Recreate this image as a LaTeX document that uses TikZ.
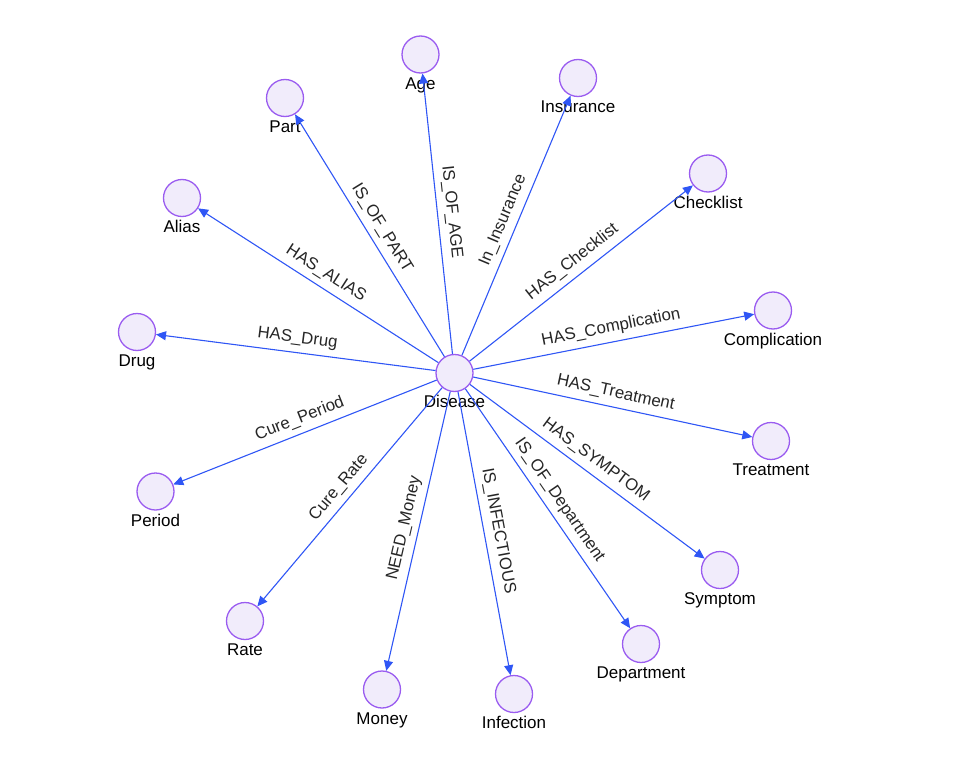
\documentclass[tikz,border=0pt]{standalone}
\usepackage{fontspec}
\setmainfont{Liberation Sans}
\usepackage{xcolor}
\usetikzlibrary{arrows.meta}
\definecolor{entline}{HTML}{9A5CF0}
\definecolor{entfill}{HTML}{F1ECFB}
\definecolor{relblue}{HTML}{2F56F5}
\tikzset{
  ent/.style  = {circle, draw=entline, fill=entfill, line width=1.3pt,
                 minimum size=37pt, inner sep=0pt,
                 label={[nlbl]below:#1}},
  nlbl/.style = {anchor=base, yshift=-15.5pt, inner sep=0pt,
                 font=\fontsize{17}{17}\selectfont},
  ar/.style   = {-{Triangle[length=10pt,width=9pt]}, relblue, line width=1.1pt},
  rel/.style  = {font=\fontsize{16.8}{17}\selectfont, text=black!85, sloped,
                 above, inner sep=6pt},
}
\begin{document}
\begin{tikzpicture}[x=1pt,y=1pt]
  \useasboundingbox (0,0) rectangle (956,-776);
  % centre
  \node[ent=Disease] (dis) at (454.5,-373) {};
  % related entities
  \node[ent=Age]          (age)  at (420.5,-54.5) {};
  \node[ent=Insurance]    (ins)  at (578,-78)     {};
  \node[ent=Part]         (part) at (285,-98)     {};
  \node[ent=Checklist]    (chk)  at (708,-173.5)  {};
  \node[ent=Alias]        (alias)at (182,-198)    {};
  \node[ent=Complication] (comp) at (773,-310.5)  {};
  \node[ent=Drug]         (drug) at (137,-332)    {};
  \node[ent=Treatment]    (trt)  at (771,-441)    {};
  \node[ent=Period]       (per)  at (155.5,-491.5){};
  \node[ent=Symptom]      (sym)  at (720,-570)    {};
  \node[ent=Rate]         (rate) at (245,-621)    {};
  \node[ent=Department]   (dep)  at (641,-644)    {};
  \node[ent=Money]        (mon)  at (382,-689.5)  {};
  \node[ent=Infection]    (inf)  at (514,-694)    {};
  % relations
  \foreach \t/\r in {age/IS\_OF\_AGE, ins/In\_Insurance, part/IS\_OF\_PART,
      chk/HAS\_Checklist, alias/HAS\_ALIAS, comp/HAS\_Complication,
      drug/HAS\_Drug, trt/HAS\_Treatment, per/Cure\_Period,
      sym/HAS\_SYMPTOM, rate/Cure\_Rate, dep/IS\_OF\_Department,
      mon/NEED\_Money, inf/IS\_INFECTIOUS}
    \draw[ar] (dis) -- node[rel]{\r} (\t);
\end{tikzpicture}
\end{document}
